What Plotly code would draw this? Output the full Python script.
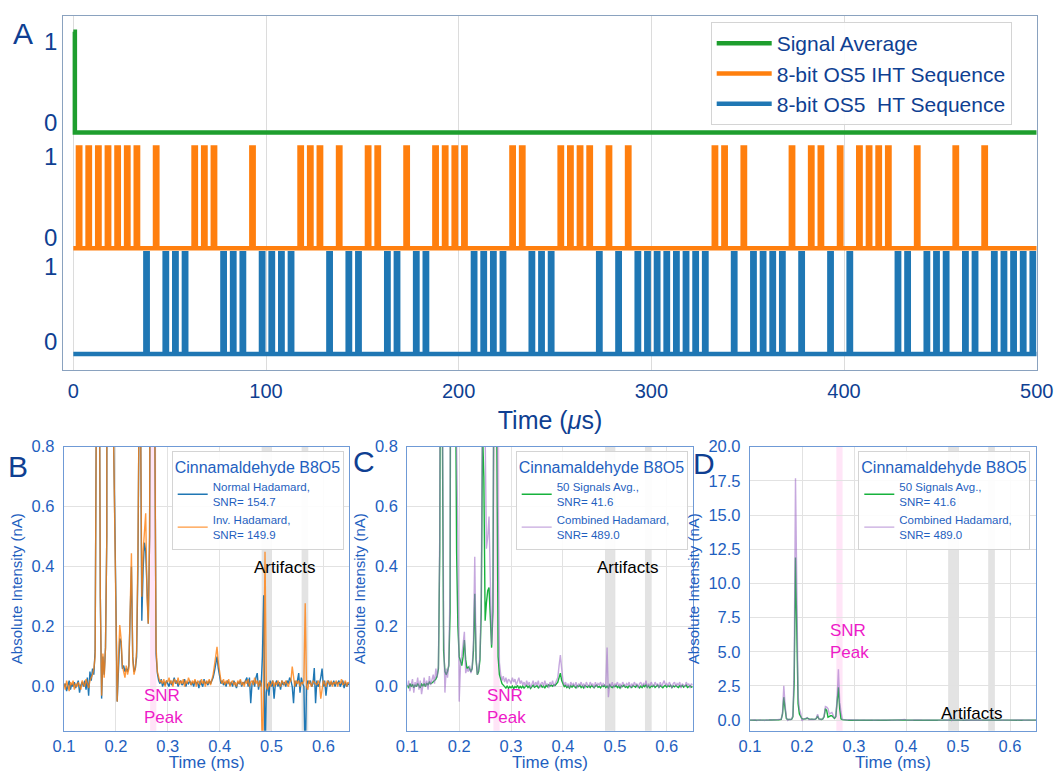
import numpy as np
import plotly.graph_objects as go

# ---------------- Panel A : excitation sequences (time in microseconds) ----------------
iht_pulse_us = [3, 8, 13, 18, 23, 28, 33, 43, 63, 68, 73, 93, 118, 123, 128, 138, 153, 158,
                173, 188, 193, 198, 203, 228, 233, 253, 258, 263, 268, 278, 288, 333, 338,
                348, 373, 383, 388, 398, 408, 413, 418, 423, 438, 458, 473]
ht_pulse_us = [38, 48, 53, 58, 78, 83, 88, 98, 103, 108, 113, 133, 143, 148, 163, 168, 178,
               183, 208, 213, 218, 223, 238, 243, 248, 273, 283, 293, 298, 303, 308, 313, 318,
               323, 328, 343, 353, 358, 363, 368, 378, 393, 403, 428, 433, 443, 448, 453, 463,
               468, 478, 483, 488, 493, 498]
avg_t_us = [0, 0.8, 0.8, 500]
avg_level = [1, 1, 0, 0]
pulse_width_us = 1.2
seq_end_us = 500

# ---------------- Panels B-D : chromatograms (time in ms, intensity in nA) ----------------
t_start_ms, t_step_ms, n_pts = 0.1, 0.0025, 221

normal_hadamard = [
    0.0, 0.01, -0.015, 0.005, 0.02, -0.01, 0.01, 0.0, 0.015, -0.005,
    0.01, 0.02, -0.02, 0.005, 0.015, 0.0, 0.02, -0.01, 0.03, -0.03,
    0.05, 0.02, 0.06, 0.04, 0.12, 1.0, 2.5, 1.5, 0.3, -0.04,
    0.1, 0.04, 0.13, 0.5, 4.0, 17.0, 9.0, 2.0, 0.9, 0.49,
    0.3, -0.05, 0.08, 0.16, 0.15, 0.06, 0.07, 0.05, 0.06, 0.05,
    0.07, 0.2, 0.4, 0.1, 0.05, 0.06, 0.1, 0.4, 1.0, 0.95,
    0.22, 0.39, 0.48, 0.45, 0.3, 0.21, 0.5, 2.0, 3.7, 1.5,
    0.9, 0.11, 0.045, 0.02, 0.01, 0.025, 0.0, 0.015, 0.005, 0.02,
    0.01, 0.0, 0.02, 0.005, 0.015, 0.03, 0.01, 0.02, 0.0, 0.015,
    0.02, 0.005, 0.01, 0.025, 0.0, 0.015, 0.01, 0.02, 0.005, 0.015,
    0.0, 0.02, 0.01, 0.015, -0.005, 0.02, 0.01, 0.0, 0.025, 0.01,
    0.015, 0.005, 0.02, 0.01, 0.02, 0.03, 0.05, 0.08, 0.1, 0.06,
    0.03, 0.01, 0.02, 0.005, 0.015, 0.0, 0.02, 0.01, 0.005, 0.015,
    0.0, 0.02, 0.01, -0.005, 0.015, 0.01, 0.02, 0.0, 0.015, 0.01,
    0.02, 0.03, 0.0, 0.03, -0.055, 0.01, 0.02, 0.0, 0.03, 0.045,
    -0.01, 0.02, 0.0, 0.1, 0.305, -0.25, -0.02, 0.01, -0.03, 0.02,
    0.0, 0.02, -0.04, 0.01, 0.02, 0.0, 0.015, -0.01, 0.02, 0.005,
    0.015, 0.0, 0.02, 0.01, 0.03, 0.02, 0.0, -0.055, 0.02, 0.0,
    0.02, 0.045, -0.02, 0.03, 0.01, 0.0, -0.25, 0.0, 0.02, 0.01,
    0.02, 0.0, 0.01, 0.062, -0.055, 0.02, 0.0, 0.01, 0.03, 0.06,
    0.0, 0.02, -0.03, 0.01, 0.02, 0.0, 0.015, 0.005, 0.02, 0.0,
    0.015, 0.01, 0.02, 0.0, 0.01, 0.02, -0.005, 0.015, 0.0, 0.01, 0.005]

inverse_hadamard = [
    0.01, -0.01, 0.02, 0.0, -0.015, 0.015, 0.005, 0.02, -0.01, 0.01,
    0.0, 0.015, 0.005, -0.01, 0.02, 0.01, 0.0, 0.025, 0.005, -0.005,
    0.02, 0.03, 0.04, 0.06, 0.1, 1.0, 2.6, 1.5, 0.3, -0.03,
    0.11, 0.03, 0.13, 0.5, 4.0, 17.5, 9.0, 2.0, 0.9, 0.53,
    0.3, -0.05, 0.09, 0.205, 0.16, 0.07, 0.05, 0.03, 0.07, 0.04,
    0.06, 0.25, 0.445, 0.09, 0.04, 0.06, 0.12, 0.45, 1.0, 0.95,
    0.3, 0.45, 0.52, 0.578, 0.3, 0.21, 0.5, 2.1, 3.8, 1.6,
    0.9, 0.13, 0.05, 0.03, 0.015, 0.02, 0.01, 0.025, 0.0, 0.02,
    0.015, 0.03, 0.01, 0.02, 0.0, 0.025, 0.015, 0.01, 0.03, 0.005,
    0.02, 0.01, 0.025, 0.0, 0.02, 0.01, 0.03, 0.015, 0.005, 0.02,
    0.01, 0.025, 0.0, 0.02, 0.015, 0.005, 0.025, 0.01, 0.02, 0.0,
    0.02, 0.01, 0.025, 0.005, 0.02, 0.04, 0.07, 0.11, 0.133, 0.08,
    0.04, 0.02, 0.01, 0.025, 0.005, 0.02, 0.01, 0.025, 0.0, 0.015,
    0.02, 0.005, 0.015, 0.0, 0.02, 0.01, 0.025, 0.005, 0.015, 0.0,
    0.02, 0.01, 0.025, 0.0, 0.015, 0.02, 0.005, 0.03, 0.01, 0.02,
    0.0, 0.02, 0.01, -0.25, 0.0, 0.45, 0.0, -0.01, 0.015, 0.0,
    0.01, 0.02, 0.0, 0.015, 0.005, 0.02, 0.01, 0.0, 0.02, 0.01,
    0.005, 0.02, 0.01, 0.0, 0.015, 0.02, 0.067, 0.03, 0.0, 0.02,
    0.01, 0.02, 0.0, 0.015, 0.01, 0.02, 0.278, 0.0, -0.01, 0.02,
    0.01, 0.0, 0.02, 0.015, 0.01, 0.005, 0.02, 0.01, -0.04, 0.0,
    0.02, 0.01, 0.0, 0.02, 0.015, 0.005, 0.02, 0.0, 0.015, 0.01,
    0.02, 0.0, 0.015, 0.01, 0.025, 0.005, 0.01, 0.02, 0.0, 0.015, 0.01]

signal_avg_50 = [
    0.005, -0.005, 0.01, 0.0, 0.008, -0.004, 0.006, 0.0, 0.01, 0.002,
    -0.004, 0.008, 0.003, 0.01, 0.0, 0.012, 0.005, 0.015, 0.01, 0.012,
    0.015, 0.02, 0.025, 0.035, 0.06, 0.45, 1.68, 0.85, 0.12, 0.05,
    0.04, 0.05, 0.07, 0.25, 2.8, 11.9, 6.0, 1.2, 0.45, 0.2,
    0.1, 0.08, 0.07, 0.1, 0.155, 0.09, 0.06, 0.065, 0.06, 0.05,
    0.06, 0.12, 0.31, 0.09, 0.04, 0.05, 0.09, 0.25, 0.85, 0.7,
    0.22, 0.28, 0.32, 0.33, 0.2, 0.13, 0.25, 1.1, 2.4, 0.85,
    0.1, 0.04, 0.02, 0.01, 0.005, 0.0, -0.005, 0.003, -0.006, 0.0,
    -0.004, 0.002, -0.007, 0.0, -0.003, 0.004, -0.006, 0.001, -0.004, 0.002,
    -0.005, 0.0, 0.004, -0.003, 0.002, -0.006, 0.001, 0.005, -0.002, 0.0,
    0.003, -0.004, 0.001, 0.005, -0.002, 0.002, -0.005, 0.004, 0.0, 0.006,
    0.002, 0.005, 0.001, 0.006, 0.004, 0.01, 0.015, 0.03, 0.045, 0.02,
    0.008, 0.0, 0.004, -0.003, 0.002, -0.005, 0.003, -0.002, 0.004, 0.0,
    -0.004, 0.003, 0.0, 0.005, -0.003, 0.002, -0.004, 0.004, 0.0, -0.002,
    0.003, -0.003, 0.004, 0.0, -0.004, 0.002, 0.005, -0.002, 0.001, -0.004,
    0.003, 0.0, 0.004, -0.003, 0.002, -0.004, 0.005, 0.0, -0.003, 0.002,
    0.0, 0.004, -0.003, 0.002, -0.005, 0.003, 0.0, 0.005, -0.002, 0.001,
    -0.004, 0.003, 0.0, -0.003, 0.004, 0.001, -0.002, 0.005, 0.0, -0.004,
    0.002, -0.003, 0.004, 0.0, 0.006, -0.002, 0.003, -0.004, 0.002, 0.0,
    0.004, -0.003, 0.001, 0.005, -0.002, 0.003, 0.0, -0.004, 0.002, 0.004,
    -0.002, 0.003, 0.0, 0.005, -0.003, 0.002, -0.001, 0.004, 0.0, -0.003,
    0.003, 0.0, 0.004, -0.002, 0.002, 0.005, -0.003, 0.001, 0.003, -0.002, 0.0]

combined_hadamard = [
    0.0, 0.02, -0.015, 0.01, 0.025, -0.02, 0.015, 0.0, 0.03, -0.01,
    0.02, -0.025, 0.01, 0.03, 0.0, 0.02, -0.01, 0.035, 0.005, 0.02,
    0.04, 0.01, 0.06, 0.03, 0.07, 0.5, 2.52, 1.1, 0.2, -0.02,
    0.06, 0.03, 0.08, 0.35, 4.0, 17.7, 9.0, 1.8, 0.8, 0.5,
    -0.05, 0.07, 0.1, 0.14, 0.183, 0.045, 0.06, 0.05, 0.07, 0.045,
    0.06, 0.15, 0.433, 0.1, 0.04, 0.06, 0.1, 0.3, 1.0, 0.95,
    0.85, 0.46, 0.5, 0.567, 0.35, 0.14, 0.3, 1.6, 3.73, 1.3,
    0.6, 0.08, 0.04, 0.02, 0.035, 0.015, 0.03, 0.01, 0.025, 0.02,
    0.01, 0.03, 0.015, 0.025, 0.005, 0.02, 0.03, 0.01, 0.02, 0.005,
    0.015, 0.0, 0.02, 0.005, 0.015, -0.005, 0.01, 0.02, 0.0, 0.015,
    0.005, 0.02, -0.005, 0.01, 0.015, 0.0, 0.02, 0.005, 0.01, -0.005,
    0.015, 0.005, 0.02, 0.0, 0.01, 0.02, 0.03, 0.07, 0.105, 0.06,
    0.02, 0.005, 0.015, 0.0, 0.01, -0.005, 0.015, 0.005, 0.01, 0.0,
    0.015, -0.005, 0.01, 0.005, 0.015, 0.0, 0.01, -0.005, 0.015, 0.005,
    0.0, 0.015, 0.005, 0.01, -0.005, 0.015, 0.0, 0.01, 0.005, 0.015,
    0.0, 0.01, 0.005, 0.0, 0.13, -0.035, 0.01, 0.0, 0.015, -0.005,
    0.01, 0.005, 0.015, 0.0, 0.01, -0.005, 0.015, 0.005, 0.0, 0.01,
    0.005, 0.015, -0.005, 0.01, 0.0, 0.015, 0.005, 0.01, -0.005, 0.01,
    0.015, 0.0, 0.01, 0.005, 0.02, -0.005, 0.01, 0.0, 0.015, 0.005,
    0.0, 0.015, 0.005, 0.01, -0.005, 0.015, 0.0, 0.01, 0.02, 0.005,
    0.01, 0.0, 0.015, 0.005, -0.005, 0.01, 0.015, 0.0, 0.01, 0.005,
    0.015, -0.005, 0.01, 0.005, 0.0, 0.015, 0.005, 0.01, -0.005, 0.01, 0.005]

snr_window_ms = [0.266, 0.278]
artifact_windows_ms = [[0.481, 0.501], [0.558, 0.571]]

for arr in (normal_hadamard, inverse_hadamard, signal_avg_50, combined_hadamard):
    assert len(arr) == n_pts, len(arr)

t_ms = np.round(t_start_ms + t_step_ms * np.arange(n_pts), 5)

# ---------------- styling ----------------
FONT = "Liberation Sans, Arial, sans-serif"
NAVY = "#0f3f92"
BLUE_TXT = "#1f5fc0"
W, H = 1055, 772

C_BLUE = "#1f77b4"
C_ORANGE = "#ff7f0e"
C_GREEN_A = "#1e9e2e"
C_GREEN = "#17b23c"
C_PURPLE = "rgba(160,110,200,0.6)"
C_ORANGE_B = "rgba(255,127,14,0.8)"


def px_x(p):
    return p / W


def px_y(p):
    return 1 - p / H


def step_wave(centers, width, t_end):
    xs, ys = [0.0], [0]
    for c in centers:
        a, b = c - width / 2, c + width / 2
        xs += [a, a, b, b]
        ys += [0, 1, 1, 0]
    xs.append(t_end)
    ys.append(0)
    return xs, ys


lane = {"ht": 0.0, "iht": 1.05, "avg": 2.2}

fig = go.Figure()

# Panel A traces
fig.add_trace(go.Scatter(x=avg_t_us, y=[v + lane["avg"] for v in avg_level], mode="lines",
                         line=dict(color=C_GREEN_A, width=4.5), name="Signal Average",
                         xaxis="x", yaxis="y", legend="legend", legendgroup="a1"))
xs, ys = step_wave(iht_pulse_us, pulse_width_us, seq_end_us)
fig.add_trace(go.Scatter(x=xs, y=[v + lane["iht"] for v in ys], mode="lines",
                         line=dict(color=C_ORANGE, width=4.5), name="8-bit OS5 IHT Sequence",
                         xaxis="x", yaxis="y", legend="legend", legendgroup="a2"))
xs, ys = step_wave(ht_pulse_us, pulse_width_us, seq_end_us)
fig.add_trace(go.Scatter(x=xs, y=[v + lane["ht"] for v in ys], mode="lines",
                         line=dict(color=C_BLUE, width=4.5), name="8-bit OS5\u00a0 HT Sequence",
                         xaxis="x", yaxis="y", legend="legend", legendgroup="a3"))

# Panel B
fig.add_trace(go.Scatter(x=t_ms, y=normal_hadamard, mode="lines", line=dict(color=C_BLUE, width=1.4),
                         name="Normal Hadamard,<br>SNR= 154.7", xaxis="x2", yaxis="y2", legend="legend2"))
fig.add_trace(go.Scatter(x=t_ms, y=inverse_hadamard, mode="lines", line=dict(color=C_ORANGE_B, width=1.4),
                         name="Inv. Hadamard,<br>SNR= 149.9", xaxis="x2", yaxis="y2", legend="legend2"))
# Panels C and D
for xa, ya, lg in (("x3", "y3", "legend3"), ("x4", "y4", "legend4")):
    fig.add_trace(go.Scatter(x=t_ms, y=signal_avg_50, mode="lines", line=dict(color=C_GREEN, width=1.4),
                             name="50 Signals Avg.,<br>SNR= 41.6", xaxis=xa, yaxis=ya, legend=lg))
    fig.add_trace(go.Scatter(x=t_ms, y=combined_hadamard, mode="lines", line=dict(color=C_PURPLE, width=1.4),
                             name="Combined Hadamard,<br>SNR= 489.0", xaxis=xa, yaxis=ya, legend=lg))

# shaded windows
shapes = []
for xa in ("x2", "x3", "x4"):
    ydom = "y" + xa[1:] + " domain"
    shapes.append(dict(type="rect", xref=xa, yref=ydom, x0=snr_window_ms[0], x1=snr_window_ms[1],
                       y0=0, y1=1, fillcolor="rgba(255,80,200,0.15)", line=dict(width=0), layer="below"))
    for w0, w1 in artifact_windows_ms:
        shapes.append(dict(type="rect", xref=xa, yref=ydom, x0=w0, x1=w1, y0=0, y1=1,
                           fillcolor="rgba(0,0,0,0.11)", line=dict(width=0), layer="below"))

# axes
frame_a = "#8aa2bf"
frame_b = "#6f9ad6"
grid = "#e2e2e2"

lay = dict(
    width=W, height=H, margin=dict(l=0, r=0, t=0, b=0, autoexpand=False),
    paper_bgcolor="white", plot_bgcolor="white",
    font=dict(family=FONT, color=BLUE_TXT),
    showlegend=True, shapes=shapes,
)

lay["xaxis"] = dict(domain=[px_x(63.3), px_x(1036.7)], anchor="y", range=[-5.2, 500],
                    tickvals=[0, 100, 200, 300, 400, 500], showgrid=True, gridcolor="#dcdcdc",
                    zeroline=False, showline=True, mirror=True, linecolor=frame_a, linewidth=1.3,
                    ticks="", ticklen=0, tickfont=dict(size=20, color=NAVY), ticklabelstandoff=3,
                    title=dict(text="Time (<i>\u03bc</i>s)", font=dict(size=25, color=NAVY), standoff=10))
lay["yaxis"] = dict(domain=[px_y(370), px_y(15.7)], anchor="x", range=[-0.159, 3.36],
                    tickvals=[0.12, 0.87, 1.16, 1.96, 2.30, 3.10], ticktext=["0", "1", "0", "1", "0", "1"],
                    showgrid=False, zeroline=False, showline=True, mirror=True, linecolor=frame_a,
                    linewidth=1.3, ticks="", ticklen=0, tickfont=dict(size=24, color=NAVY),
                    ticklabelstandoff=0)

bottom_dom = [px_y(730.7), px_y(446.7)]
for i, (x0, x1, yr, dt) in enumerate(((64, 349.3, [-0.147, 0.8], 0.2),
                                      (407.3, 692.7, [-0.147, 0.8], 0.2),
                                      (750, 1036, [-0.77, 20.0], 2.5)), start=2):
    lay[f"xaxis{i}"] = dict(domain=[px_x(x0), px_x(x1)], anchor=f"y{i}", range=[0.1, 0.65],
                            dtick=0.1, tick0=0.1, tickformat=".1f", showgrid=True, gridcolor=grid,
                            zeroline=False, showline=True, mirror=True, linecolor=frame_b, linewidth=1.3,
                            ticks="", ticklen=0, tickfont=dict(size=16.5, color=BLUE_TXT),
                            ticklabelstandoff=0,
                            title=dict(text="Time (ms)", font=dict(size=17, color=BLUE_TXT), standoff=6))
    lay[f"yaxis{i}"] = dict(domain=bottom_dom, anchor=f"x{i}", range=yr, dtick=dt, tick0=0,
                            tickformat=".1f", showgrid=True, gridcolor=grid, zeroline=False,
                            showline=True, mirror=True, linecolor=frame_b, linewidth=1.3, ticks="",
                            ticklen=0, tickfont=dict(size=16.5, color=BLUE_TXT), ticklabelstandoff=5,
                            title=dict(text="Absolute Intensity (nA)", font=dict(size=15, color=BLUE_TXT),
                                       standoff=5))

# legends
lay["legend"] = dict(x=px_x(710.7), y=px_y(22), xanchor="left", yanchor="top",
                     bgcolor="rgba(255,255,255,0.9)", bordercolor="#d4d4d4", borderwidth=1,
                     font=dict(size=21, color=NAVY, family=FONT), itemwidth=55, traceorder="normal",
                     tracegroupgap=3)
leg_common = dict(yanchor="top", xanchor="left", bgcolor="rgba(255,255,255,0.9)",
                  bordercolor="#d4d4d4", borderwidth=1, traceorder="normal",
                  font=dict(size=11.5, color=BLUE_TXT, family=FONT),
                  title=dict(text="Cinnamaldehyde B8O5", font=dict(size=16, color=BLUE_TXT), side="top"))
lay["legend2"] = dict(x=px_x(171.7), y=px_y(451), **leg_common)
lay["legend3"] = dict(x=px_x(515.7), y=px_y(451), **leg_common)
lay["legend4"] = dict(x=px_x(858.3), y=px_y(451), **leg_common)

# annotations
ann = []
for txt, cx, cy in (("A", 23, 33), ("B", 17.5, 466), ("C", 364, 461), ("D", 704, 463)):
    ann.append(dict(text=txt, x=px_x(cx), y=px_y(cy), xref="paper", yref="paper", showarrow=False,
                    xanchor="center", yanchor="middle", font=dict(size=30, color=NAVY, family=FONT)))
for xa, ya, art_y, snr_y in (("x2", "y2", 0.396, -0.067), ("x3", "y3", 0.398, -0.067),
                             ("x4", "y4", 0.48, 5.79)):
    ann.append(dict(text="Artifacts", x=0.4625, y=art_y, xref=xa, yref=ya, showarrow=False,
                    xanchor="left", yanchor="middle", font=dict(size=17, color="black", family=FONT)))
    ann.append(dict(text="SNR<br>Peak", x=0.25, y=snr_y, xref=xa, yref=ya, showarrow=False,
                    xanchor="left", yanchor="middle", align="left",
                    font=dict(size=17, color="#ee1ac8", family=FONT)))
lay["annotations"] = ann

fig.update_layout(**lay)
fig.write_html("out.html", config={"displayModeBar": False},
               post_script="document.body.style.margin='0px';")
